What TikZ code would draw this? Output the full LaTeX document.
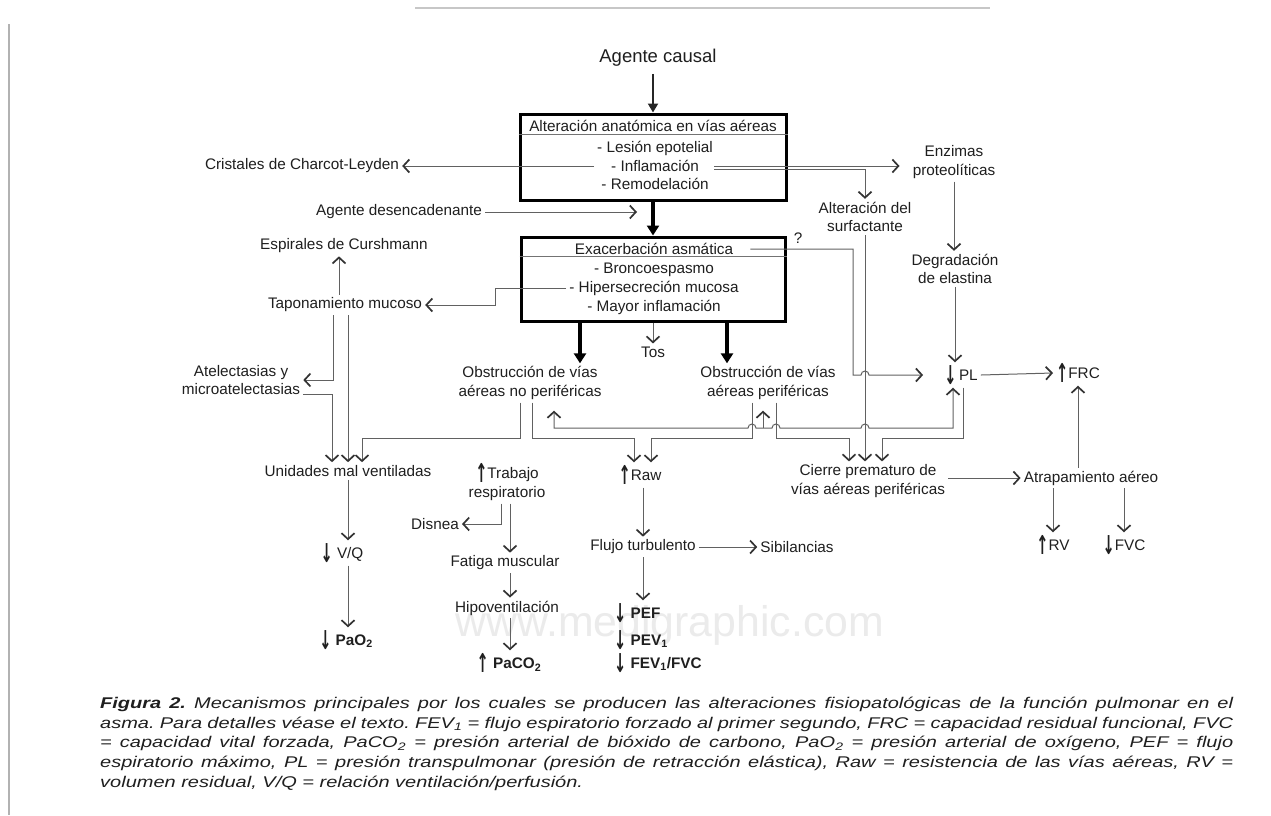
\documentclass[tikz,border=0pt]{standalone}
\usepackage{fontspec}
\setmainfont{Liberation Sans}
\newfontfamily\symf{DejaVu Sans}
\newfontfamily\capfont{Liberation Sans}[FakeStretch=1.29]
\usetikzlibrary{arrows.meta,calc}
\newcommand\myUp{\raisebox{-0.5ex}{\scalebox{0.95}[1.7]{\symf\bfseries ↑}}}
\newcommand\myDn{\raisebox{-0.5ex}{\scalebox{0.95}[1.7]{\symf\bfseries ↓}}}
\tikzset{
  lbl/.style={align=center,inner sep=3pt,text=black!88,font=\fontsize{15.3}{18.5}\selectfont},
  bx/.style={draw=black,line width=3pt,inner sep=0pt},
  sepline/.style={draw=black!55,line width=0.8pt},
  ar/.style={draw=black!62,line width=1pt,-{Straight Barb[length=6pt,width=13pt,line width=1.7pt,color=black!80]}},
  ar2/.style={draw=black!62,line width=1pt,{Straight Barb[length=6pt,width=13pt,line width=1.7pt,color=black!80]}-{Straight Barb[length=6pt,width=13pt,line width=1.7pt,color=black!80]}},
  thk/.style={draw=black,line width=3.2pt,-{Triangle[length=10pt,width=12pt]}},
  mid/.style={draw=black!85,line width=2pt,-{Triangle[length=9pt,width=10pt]}},
  bld/.style={lbl,font=\bfseries\fontsize{15.3}{18.5}\selectfont}
}
\begin{document}
\begin{tikzpicture}[x=1pt,y=-1pt]
\useasboundingbox (0,0) rectangle (1271,815);
\fill[white] (0,0) rectangle (1271,815);
% frame remnants
\draw[black!30,line width=1.5pt] (9,24) -- (9,815);
\draw[black!22,line width=2.5pt] (415,8) -- (990,8);
% watermark
\node[text=black!8,font=\fontsize{42.8}{46}\selectfont,inner sep=0pt] (wm) at (670,625) {www.medigraphic.com};

% nodes
\node[lbl,font=\fontsize{18.5}{21}\selectfont] (causal) at (658,58) {Agente causal};
\node[bx,minimum width=266pt,minimum height=86pt] (box1) at (653,157) {};
\node[lbl] (h1) at (653,126) {Alteración anatómica en vías aéreas};
\node[lbl] (l1a) at (655,148) {- Lesión epotelial};
\node[lbl] (l1b) at (655,166) {- Inflamación};
\node[lbl] (l1c) at (655,184) {- Remodelación};
\node[bx,minimum width=264pt,minimum height=84pt] (box2) at (653,279) {};
\node[lbl] (h2) at (654,249) {Exacerbación asmática};
\node[lbl] (l2a) at (654,270) {- Broncoespasmo};
\node[lbl] (l2b) at (654,288) {- Hipersecreción mucosa};
\node[lbl] (l2c) at (654,307) {- Mayor inflamación};
\node[lbl] (q) at (798,238) {?};
\node[lbl] (cristales) at (302,166) {Cristales de Charcot-Leyden};
\node[lbl] (enzimas) at (954,162) {Enzimas\\proteolíticas};
\node[lbl] (surf) at (865,217) {Alteración del\\surfactante};
\node[lbl] (deg) at (955,269) {Degradación\\de elastina};
\node[lbl] (pl) at (961,375) {\myDn\,PL};
\node[lbl] (frc) at (1078,373) {\myUp FRC};
\node[lbl] (atrap) at (1091,478) {Atrapamiento aéreo};
\node[lbl] (rv) at (1053,545) {\myUp RV};
\node[lbl] (fvc) at (1124,545) {\myDn FVC};
\node[lbl] (desenc) at (399,212) {Agente desencadenante};
\node[lbl] (espir) at (344,246) {Espirales de Curshmann};
\node[lbl] (tapon) at (345,305) {Taponamiento mucoso};
\node[lbl] (atel) at (241,380) {Atelectasias y\\microatelectasias};
\node[lbl] (obsnp) at (530,383) {Obstrucción de vías\\aéreas no periféricas};
\node[lbl] (tos) at (653,352) {Tos};
\node[lbl] (obsp) at (768,383) {Obstrucción de vías\\aéreas periféricas};
\node[lbl] (unid) at (348,471) {Unidades mal ventiladas};
\node[lbl] (vq) at (342,553) {\myDn\ V/Q};
\node[bld] (pao2) at (346,640) {\myDn\ PaO\textsubscript{2}};
\node[lbl] (trab) at (507,482) {\myUp Trabajo\\respiratorio};
\node[lbl] (disnea) at (435,524) {Disnea};
\node[lbl] (fatiga) at (505,563) {Fatiga muscular};
\node[lbl] (hipo) at (507,608) {Hipoventilación};
\node[bld] (paco2) at (509,663) {\myUp\ PaCO\textsubscript{2}};
\node[lbl] (raw) at (640,475) {\myUp Raw};
\node[lbl] (flujo) at (643,547) {Flujo turbulento};
\node[lbl] (sib) at (797,547) {Sibilancias};
\node[bld,anchor=west] (pef) at (611,613) {\myDn\ PEF};
\node[bld,anchor=west] (pev) at (611,640) {\myDn\ PEV\textsubscript{1}};
\node[bld,anchor=west] (fev) at (611,663) {\myDn\ FEV\textsubscript{1}/FVC};
\node[lbl] (cierre) at (868,481) {Cierre prematuro de\\vías aéreas periféricas};

% box separators
\draw[sepline] ([yshift=-22pt]box1.north west) -- ([yshift=-22pt]box1.north east);
\draw[sepline] ([yshift=-21pt]box2.north west) -- ([yshift=-21pt]box2.north east);

% routing levels
\coordinate (busA) at (0,428);
\coordinate (busB) at (0,438);
\coordinate (v1) at ([xshift=-16pt]obsp.south);
\coordinate (v2) at ([xshift=8pt]obsp.south);

% connectors
\draw[mid,shorten <=4pt] (causal.south -| box1.north) -- (box1.north);
\draw[thk] (box1.south) -- (box2.north);
\draw[ar,shorten >=16pt] (desenc.east) -- (desenc.east -| box1.south);
\draw[ar] ([xshift=-14pt]l1b.west) -- (cristales.east);
\draw[ar,shorten >=10pt] ([xshift=12pt]l1b.east) -- (l1b.east -| enzimas.west);
\draw[ar] ([xshift=12pt,yshift=-3pt]l1b.east) -| (surf.north);
\draw[ar] (enzimas.south) -- (enzimas.south |- deg.north);
\draw[ar] (deg.south) -- (deg.south |- pl.north);
\draw[ar] (pl.east) -- (frc.west);
\draw[ar] (frc.south |- atrap.north) -- (frc.south);
\draw[ar] (atrap.west -| cierre.east) -- (atrap.west);
\draw[ar] (rv.north |- atrap.south) -- (rv.north);
\draw[ar] (fvc.north |- atrap.south) -- (fvc.north);
\draw[ar] ([xshift=-6pt]tapon.north) -- ([xshift=-6pt]tapon.north |- espir.south);
\draw[ar] (l2b.west) -- ++(-71,0) |- (tapon.east);
\draw[ar] ([xshift=-12pt]tapon.south) |- (atel.east);
\draw[ar] ([yshift=-14pt]atel.east) -| ([xshift=-16pt]unid.north);
\draw[ar] (unid.north |- tapon.south) -- (unid.north);
\draw[ar] ([xshift=-10pt]obsnp.south) -- ([xshift=-10pt]obsnp.south |- busB) -| ([xshift=14pt]unid.north);
\draw[ar] ([xshift=2pt]obsnp.south) -- ([xshift=2pt]obsnp.south |- busB) -| ([xshift=-6pt]raw.north);
\draw[ar] (v1) -- (v1 |- busB) -| ([xshift=11pt]raw.north);
\draw[ar] (v2) -- (v2 |- busB) -| ([xshift=-19pt]cierre.north);
\draw[ar] (surf.south) -- (surf.south |- cierre.north);
\draw[ar] ([xshift=2pt]pl.south) -- ([xshift=2pt]pl.south |- busB) -| ([xshift=14pt]cierre.north);
\draw[ar2,shorten <=8pt] ([xshift=24pt]obsnp.south) -- ([xshift=24pt]obsnp.south |- busA)
   -- ($(v1 |- busA)+(-4,0)$) arc[start angle=180,end angle=360,radius=4]
   -- ($(v2 |- busA)+(-4,0)$) arc[start angle=180,end angle=360,radius=4]
   -- ($(surf.south |- busA)+(-4,0)$) arc[start angle=180,end angle=360,radius=4]
   -- ([xshift=-8pt]pl.south |- busA) -- ([xshift=-8pt]pl.south);
\draw[ar,shorten >=8pt] ([xshift=-5pt]obsp.south |- busA) -- ([xshift=-5pt]obsp.south);
\draw[ar,shorten >=18pt] ([xshift=14pt]h2.east) -| ($(surf.south |- pl.west)+(-12,0)$)
   -- ($(surf.south |- pl.west)+(-4,0)$) arc[start angle=180,end angle=360,radius=4]
   -- (pl.west);
\draw[thk] ([xshift=50pt]obsnp.north |- box2.south) -- ([xshift=50pt]obsnp.north);
\draw[thk] ([xshift=-41pt]obsp.north |- box2.south) -- ([xshift=-41pt]obsp.north);
\draw[ar] (tos.north |- box2.south) -- (tos.north);
\draw[ar] (raw.south -| flujo.north) -- (flujo.north);
\draw[ar] (flujo.east) -- (sib.west);
\draw[ar] (flujo.south) -- (flujo.south |- pef.north);
\draw[ar] (unid.south) -- (unid.south |- vq.north);
\draw[ar] (unid.south |- vq.south) -- (unid.south |- pao2.north);
\draw[ar] ([xshift=-6pt]trab.south) |- (disnea.east);
\draw[ar] ([xshift=3pt]trab.south) -- ([xshift=3pt]trab.south |- fatiga.north);
\draw[ar] ([xshift=3pt]trab.south |- fatiga.south) -- ([xshift=3pt]trab.south |- hipo.north);
\draw[ar] ([xshift=3pt]trab.south |- hipo.south) -- ([xshift=3pt]trab.south |- paco2.north);

% caption
\node[anchor=north west,text width=1133pt,align=justify,inner sep=0pt,text=black!88,
      font=\capfont\itshape\fontsize{15.5}{19.6}\selectfont\frenchspacing] (cap) at (100,697)
{\textbf{Figura 2.} Mecanismos principales por los cuales se producen las alteraciones fisiopatológicas de la función pulmonar en el\linebreak
asma. Para detalles véase el texto. FEV\textsubscript{1} = flujo espiratorio forzado al primer segundo, FRC = capacidad residual funcional, FVC\linebreak
= capacidad vital forzada, PaCO\textsubscript{2} = presión arterial de bióxido de carbono, PaO\textsubscript{2} = presión arterial de oxígeno, PEF = flujo\linebreak
espiratorio máximo, PL = presión transpulmonar (presión de retracción elástica), Raw = resistencia de las vías aéreas, RV =\linebreak
volumen residual, V/Q = relación ventilación/perfusión.};
\end{tikzpicture}
\end{document}
